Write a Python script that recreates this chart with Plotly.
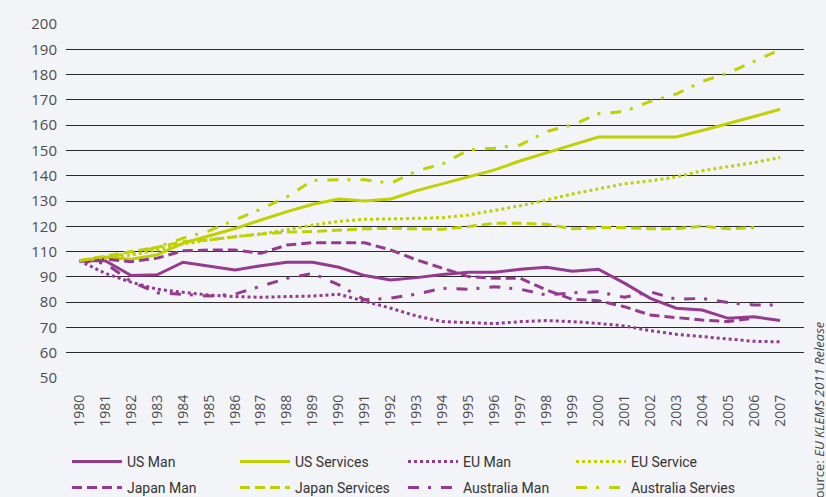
import plotly.graph_objects as go

years = list(range(1980, 2008))
year_labels = [str(y) for y in years]

# y-axis gridline positions (internal scale) and the labels printed on them
y_grid = [200, 190, 180, 170, 160, 150, 140, 130, 120, 110, 100, 90, 80, 70, 60]
y_labels = ["200", "190", "180", "170", "160", "150", "140", "130", "120", "110",
            "90", "80", "70", "60", "50"]

us_man = [106.4, 106.4, 100.5, 100.8, 105.8, 104.3, 102.7, 104.4, 105.8, 105.8,
          103.8, 100.5, 98.8, 99.7, 100.9, 101.8, 101.8, 103.0, 103.8, 102.2,
          103.0, 97.5, 91.5, 87.6, 86.9, 83.6, 84.2, 82.7]
us_services = [106.4, 107.8, 107.0, 108.7, 113.3, 116.2, 119.1, 122.5, 125.8, 128.7,
               130.8, 130.0, 130.8, 134.1, 136.8, 139.7, 142.3, 145.9, 148.9, 152.2,
               155.3, 155.3, 155.3, 155.3, 157.9, 160.5, 163.4, 166.3]
eu_man = [106.4, 101.4, 97.9, 95.1, 93.9, 92.8, 92.2, 91.9, 92.2, 92.4,
          93.1, 90.5, 87.6, 84.5, 82.3, 81.9, 81.5, 82.3, 82.7, 82.3,
          81.6, 80.6, 78.7, 77.3, 76.3, 75.3, 74.5, 74.3]
eu_service = [106.4, 107.3, 108.7, 110.6, 113.0, 114.6, 115.9, 117.0, 118.6, 120.5,
              121.9, 122.8, 122.9, 123.2, 123.4, 124.5, 126.2, 128.1, 130.4, 132.8,
              134.8, 136.8, 138.0, 139.5, 142.0, 143.6, 145.2, 147.2]
japan_man = [106.4, 107.0, 106.0, 107.4, 110.3, 110.6, 110.6, 109.3, 112.6, 113.5,
             113.5, 113.5, 110.6, 106.7, 103.4, 100.1, 99.4, 99.4, 94.8, 91.1,
             90.6, 88.2, 84.9, 84.0, 82.9, 82.3, 83.7, None]
japan_services = [106.4, 108.3, 110.0, 111.7, 113.9, 114.6, 115.9, 116.9, 117.7, 117.9,
                  118.6, 119.0, 119.2, 119.0, 118.8, 119.9, 121.2, 121.2, 120.8, 119.0,
                  119.5, 119.5, 119.0, 119.0, 120.1, 119.0, 119.5, None]
australia_man = [106.4, 105.4, 98.1, 93.7, 93.1, 92.4, 93.2, 96.4, 99.4, 101.4,
                 96.8, 90.9, 91.6, 93.2, 95.5, 95.1, 96.1, 95.1, 92.8, 93.7,
                 94.1, 91.9, 94.1, 91.1, 91.5, 89.8, 88.9, 88.9]
australia_services = [106.4, 107.8, 109.3, 111.7, 115.3, 118.2, 122.5, 126.8, 131.6, 138.2,
                      138.4, 138.4, 137.0, 141.9, 144.7, 150.2, 150.9, 152.2, 157.5, 160.1,
                      164.5, 165.4, 169.4, 172.3, 177.3, 180.6, 185.2, 189.8]

PURPLE = "#953a8f"
GREEN = "#bfd100"

series = [
    ("US Man", us_man, PURPLE, "solid", "legend"),
    ("US Services", us_services, GREEN, "solid", "legend"),
    ("EU Man", eu_man, PURPLE, "dot", "legend"),
    ("EU Service", eu_service, GREEN, "dot", "legend"),
    ("Japan Man", japan_man, PURPLE, "10px,5px", "legend2"),
    ("Japan Services", japan_services, GREEN, "10px,5px", "legend2"),
    ("Australia Man", australia_man, PURPLE, "11px,9px,3px,10px", "legend2"),
    ("Australia Servies", australia_services, GREEN, "11px,9px,3px,10px", "legend2"),
]

fig = go.Figure()
for name, vals, color, dash, leg in series:
    fig.add_trace(go.Scatter(
        x=years, y=vals, name=name, mode="lines",
        line=dict(color=color, width=3, dash=dash),
        legend=leg,
    ))

BG = "#f3f4f8"
legend_font = dict(family="Liberation Sans Narrow, Roboto, Open Sans, sans-serif",
                   size=14, color="#333333")

common_legend = dict(
    orientation="h", xref="container", yref="container",
    xanchor="left", yanchor="middle",
    entrywidth=103, entrywidthmode="pixels", itemwidth=50,
    font=legend_font, bgcolor="rgba(0,0,0,0)", traceorder="normal",
)

fig.update_layout(
    width=826, height=497,
    margin=dict(l=66, r=22, t=24, b=119),
    paper_bgcolor=BG, plot_bgcolor=BG,
    font=dict(family="Open Sans, sans-serif", color="#555555"),
    xaxis=dict(
        range=[1979.49, 2007.92], automargin=False,
        tickmode="array", tickvals=years, ticktext=year_labels,
        tickangle=-90, showgrid=False, zeroline=False, showline=False,
        tickfont=dict(size=14, color="#4d4d4d"),
        ticks="", ticklabelstandoff=13,
    ),
    yaxis=dict(
        range=[60, 200], automargin=False,
        tickmode="array", tickvals=y_grid, ticktext=y_labels,
        showgrid=True, gridcolor="#2a2a2a", gridwidth=1,
        zeroline=False, showline=False,
        tickfont=dict(size=15, color="#4d4d4d"),
        ticks="", ticklabelstandoff=8,
    ),
    legend=dict(common_legend, x=0.0811, y=0.0704),
    legend2=dict(common_legend, x=0.0811, y=0.0181),
    annotations=[dict(
        text="Source: <i>EU KLEMS 2011 Release</i>",
        xref="paper", yref="paper", x=1.0, y=-0.1, xshift=15,
        xanchor="center", yanchor="middle", textangle=-90, showarrow=False,
        font=dict(family="Open Sans, sans-serif", size=13, color="#444444"),
    )],
)

fig.write_html(
    "out.html",
    config={"displayModeBar": False},
    post_script="document.body.style.margin='0';document.body.style.background='%s';" % BG,
)
